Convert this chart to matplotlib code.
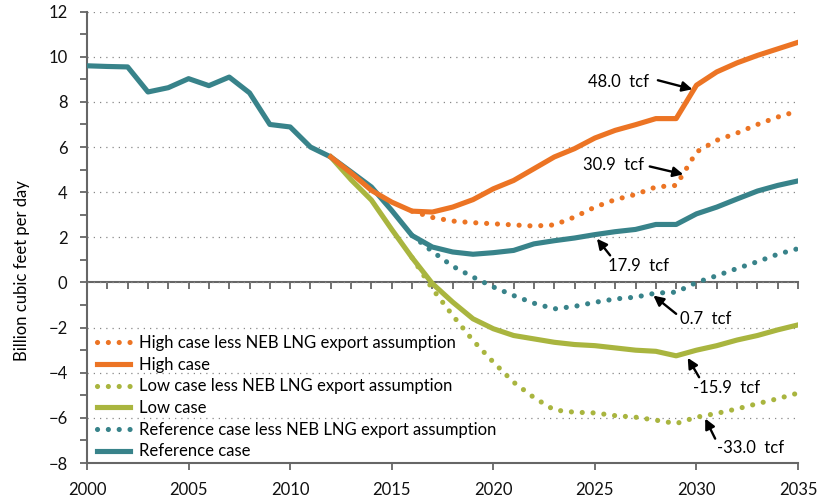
import numpy as np
import matplotlib.pyplot as plt

# years for each series
years_ref = np.arange(2000, 2036)
years_case = np.arange(2012, 2036)
years_less = np.arange(2016, 2036)

# billion cubic feet per day
reference = [9.6, 9.57, 9.55, 8.44, 8.63, 9.03, 8.72, 9.1, 8.4, 7.0, 6.89, 6.0,
             5.56, 4.9, 4.23, 3.19, 2.08, 1.57, 1.35, 1.25, 1.32, 1.42, 1.71, 1.85,
             1.97, 2.12, 2.25, 2.35, 2.57, 2.57, 3.04, 3.34, 3.7, 4.05, 4.3, 4.5]
high = [5.56, 4.85, 4.08, 3.56, 3.16, 3.12, 3.34, 3.67, 4.15, 4.52, 5.04, 5.56,
        5.93, 6.4, 6.74, 6.99, 7.26, 7.26, 8.74, 9.33, 9.73, 10.06, 10.35, 10.64]
low = [5.56, 4.55, 3.65, 2.35, 1.1, -0.05, -0.87, -1.61, -2.05, -2.35, -2.5, -2.65,
       -2.75, -2.8, -2.9, -3.0, -3.05, -3.25, -3.0, -2.8, -2.55, -2.35, -2.1, -1.88]
high_less = [3.16, 2.88, 2.72, 2.65, 2.6, 2.55, 2.5, 2.55, 2.9, 3.34, 3.67, 3.9,
             4.23, 4.3, 5.78, 6.3, 6.62, 7.0, 7.33, 7.6]
ref_less = [2.08, 1.37, 0.72, 0.24, -0.2, -0.58, -0.92, -1.17, -1.06, -0.88, -0.73,
            -0.65, -0.47, -0.43, 0.0, 0.3, 0.62, 0.92, 1.25, 1.5]
low_less = [1.1, -0.28, -1.46, -2.57, -3.53, -4.42, -5.1, -5.65, -5.75, -5.78, -5.9,
            -5.97, -6.1, -6.25, -5.97, -5.8, -5.6, -5.37, -5.15, -4.9]

# cumulative labels: text, text position, arrow tail, arrow tip
notes = [
    ("48.0  tcf", (2024.67, 8.87), (2028.1, 8.96), (2029.8, 8.56)),
    ("30.9  tcf", (2024.42, 5.19), (2027.7, 5.14), (2029.35, 4.79)),
    ("17.9  tcf", (2025.65, 0.75), (2025.75, 1.2), (2025.1, 1.94)),
    ("0.7  tcf", (2029.2, -1.6), (2029.0, -1.39), (2027.88, -0.58)),
    ("-15.9  tcf", (2029.84, -4.66), (2030.13, -4.2), (2029.57, -3.34)),
    ("-33.0  tcf", (2031.0, -7.32), (2030.92, -6.92), (2030.43, -6.03)),
]

orange = '#EC7424'
green = '#A9B53F'
teal = '#38838A'
axis_col = '#666666'

plt.rcParams['font.family'] = ['Lato', 'DejaVu Sans']

fig = plt.figure(figsize=(8.17, 5.01), dpi=100)
ax = fig.add_axes([0.1065, 0.0758, 0.8703, 0.901])

dots = (0, (0.01, 2.1))
lw = 3.7
h_ll, = ax.plot(years_less, low_less, color=green, lw=lw, ls=dots,
                dash_capstyle='round', zorder=3,
                label='Low case less NEB LNG export assumption')
h_rl, = ax.plot(years_less, ref_less, color=teal, lw=lw, ls=dots,
                dash_capstyle='round', zorder=3,
                label='Reference case less NEB LNG export assumption')
h_hl, = ax.plot(years_less, high_less, color=orange, lw=lw, ls=dots,
                dash_capstyle='round', zorder=3,
                label='High case less NEB LNG export assumption')
h_l, = ax.plot(years_case, low, color=green, lw=lw, zorder=4, label='Low case')
h_r, = ax.plot(years_ref, reference, color=teal, lw=lw, zorder=5,
               label='Reference case')
h_h, = ax.plot(years_case, high, color=orange, lw=lw, zorder=6, label='High case')

for txt, pos, tail, tip in notes:
    ax.text(pos[0], pos[1], txt, fontsize=12, ha='left', va='center', zorder=7)
    ax.annotate('', xy=tip, xytext=tail, zorder=7,
                arrowprops=dict(arrowstyle='-|>,head_length=0.6,head_width=0.3',
                                color='black', lw=1.7, shrinkA=0, shrinkB=0))

# axes
ax.set_xlim(2000, 2035)
ax.set_ylim(-8, 12)
ax.set_xticks(range(2000, 2036, 5))
ax.set_yticks(range(-8, 13, 2))
ax.set_yticks(range(-7, 12, 2), minor=True)
ax.tick_params(axis='both', which='both', direction='out', length=5, width=1.3,
               color=axis_col, labelsize=12, labelcolor='#111111')
ax.tick_params(axis='x', pad=9)
ax.tick_params(axis='y', pad=9)
for s in ['top', 'right']:
    ax.spines[s].set_visible(False)
for s in ['left', 'bottom']:
    ax.spines[s].set_color(axis_col)
    ax.spines[s].set_linewidth(1.5)
ax.yaxis.grid(True, color='#888888', lw=0.9, ls=(0, (1, 4)))
ax.set_axisbelow(True)

# zero line with yearly ticks
zero = ax.secondary_xaxis(0.4)
zero.set_xticks(range(2000, 2036))
zero.set_xticklabels([])
zero.tick_params(direction='out', length=5, width=1.3, color=axis_col)
zero.spines['bottom'].set_color(axis_col)
zero.spines['bottom'].set_linewidth(1.5)

fig.text(0.027, 0.459, 'Billion cubic feet per day', rotation=90,
         fontsize=12, ha='center', va='center')

ax.legend(handles=[h_hl, h_h, h_ll, h_l, h_rl, h_r], loc='lower left',
          bbox_to_anchor=(0.014, 0.008), frameon=False, fontsize=12,
          handlelength=2.0, handletextpad=0.5, labelspacing=0.34,
          borderpad=0, borderaxespad=0)

fig.savefig('out.png', dpi=100)
